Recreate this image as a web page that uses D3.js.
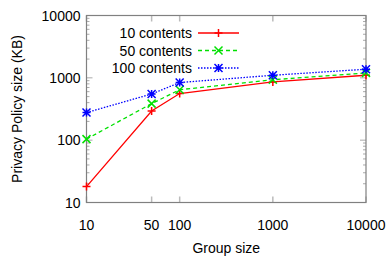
<!DOCTYPE html>
<html>
<head>
<meta charset="utf-8">
<script src="https://cdn.jsdelivr.net/npm/d3@7"></script>
<style>
  body { margin: 0; background: #fff; }
  svg text { font-family: "Liberation Sans", Arial, sans-serif; }
</style>
</head>
<body>
<div id="chart"></div>
<script>
const groupSizes = [10, 50, 100, 1000, 10000];
const xTicks = [10, 50, 100, 1000, 10000];
const yTicks = [10, 100, 1000, 10000];
const seriesNames = ["10 contents", "50 contents", "100 contents"];
const contents10 = [18, 294, 560, 860, 1100];
const contents50 = [104, 386, 645, 930, 1200];
const contents100 = [277, 551, 840, 1100, 1375];

const series = [
  { name: seriesNames[0], values: contents10, color: "#ff0000", dash: null, marker: "plus" },
  { name: seriesNames[1], values: contents50, color: "#00e000", dash: "4,3", marker: "cross" },
  { name: seriesNames[2], values: contents100, color: "#0000ff", dash: "1.5,1.5", marker: "star" }
];

const W = 390, H = 260;
const margin = { top: 15.5, right: 24, bottom: 57.5, left: 86.5 };
const width = W - margin.left - margin.right;
const height = H - margin.top - margin.bottom;

const svg = d3.select("#chart").append("svg")
  .attr("width", W).attr("height", H);
const g = svg.append("g").attr("transform", `translate(${margin.left},${margin.top})`);

const x = d3.scaleLog().domain([10, 10000]).range([0, width]);
const y = d3.scaleLog().domain([10, 10000]).range([height, 0]);

// minor y ticks (both sides)
const minor = [];
for (let d = 10; d < 10000; d *= 10) for (let k = 2; k <= 9; k++) minor.push(d * k);
g.selectAll(".ymin").data(minor).enter().append("line")
  .attr("x1", 0).attr("x2", 3).attr("y1", d => y(d)).attr("y2", d => y(d))
  .attr("stroke", "#aaa").attr("stroke-width", 1);
g.selectAll(".ymin2").data(minor).enter().append("line")
  .attr("x1", width).attr("x2", width - 3).attr("y1", d => y(d)).attr("y2", d => y(d))
  .attr("stroke", "#aaa").attr("stroke-width", 1);

// major ticks
g.selectAll(".ymaj").data(yTicks).enter().append("line")
  .attr("x1", 0).attr("x2", 6).attr("y1", d => y(d)).attr("y2", d => y(d))
  .attr("stroke", "#aaa");
g.selectAll(".ymaj2").data(yTicks).enter().append("line")
  .attr("x1", width).attr("x2", width - 6).attr("y1", d => y(d)).attr("y2", d => y(d))
  .attr("stroke", "#aaa");
g.selectAll(".xmaj").data(xTicks).enter().append("line")
  .attr("x1", d => x(d)).attr("x2", d => x(d)).attr("y1", height).attr("y2", height - 6)
  .attr("stroke", "#bbb").attr("stroke-width", 1.5);
g.selectAll(".xmaj2").data(xTicks).enter().append("line")
  .attr("x1", d => x(d)).attr("x2", d => x(d)).attr("y1", 0).attr("y2", 6)
  .attr("stroke", "#bbb").attr("stroke-width", 1.5);

// frame
g.append("rect").attr("width", width).attr("height", height)
  .attr("fill", "none").attr("stroke", "#808080").attr("stroke-width", 1.2);

// tick labels
g.selectAll(".yl").data(yTicks).enter().append("text")
  .attr("x", -6).attr("y", d => y(d)).attr("dy", "0.36em")
  .attr("text-anchor", "end").attr("font-size", 14).text(d => d);
g.selectAll(".xl").data(xTicks).enter().append("text")
  .attr("x", d => x(d)).attr("y", height + 27)
  .attr("text-anchor", "middle").attr("font-size", 14).text(d => d);

// axis titles
svg.append("text").attr("x", margin.left + width / 2).attr("y", 253)
  .attr("text-anchor", "middle").attr("font-size", 14).text("Group size");
svg.append("text").attr("transform", `translate(22,${margin.top + height / 2}) rotate(-90)`)
  .attr("text-anchor", "middle").attr("font-size", 14).text("Privacy Policy size (KB)");

function drawMarker(sel, type, color) {
  const s = 4;
  let p;
  if (type === "plus") p = `M${-s},0H${s}M0,${-s}V${s}`;
  else if (type === "cross") p = `M${-s},${-s}L${s},${s}M${-s},${s}L${s},${-s}`;
  else p = `M${-s},0H${s}M0,${-s}V${s}M${-s},${-s}L${s},${s}M${-s},${s}L${s},${-s}`;
  sel.append("path").attr("d", p).attr("stroke", color).attr("stroke-width", 1.5).attr("fill", "none");
}

const line = d3.line().x((d, i) => x(groupSizes[i])).y(d => y(d));

series.forEach((s, si) => {
  g.append("path").datum(s.values).attr("d", line)
    .attr("fill", "none").attr("stroke", s.color).attr("stroke-width", 1.3)
    .attr("stroke-dasharray", s.dash);
  s.values.forEach((v, i) => {
    const m = g.append("g").attr("transform", `translate(${x(groupSizes[i])},${y(v)})`);
    drawMarker(m, s.marker, s.color);
  });

  // legend
  const ly = 33 + si * 17.5 - margin.top;
  g.append("text").attr("x", 192 - margin.left).attr("y", ly).attr("dy", "0.36em")
    .attr("text-anchor", "end").attr("font-size", 14).text(s.name);
  g.append("line").attr("x1", 198 - margin.left).attr("x2", 239 - margin.left)
    .attr("y1", ly).attr("y2", ly)
    .attr("stroke", s.color).attr("stroke-width", 1.3).attr("stroke-dasharray", s.dash);
  const lm = g.append("g").attr("transform", `translate(${218.5 - margin.left},${ly})`);
  drawMarker(lm, s.marker, s.color);
});
</script>
</body>
</html>
